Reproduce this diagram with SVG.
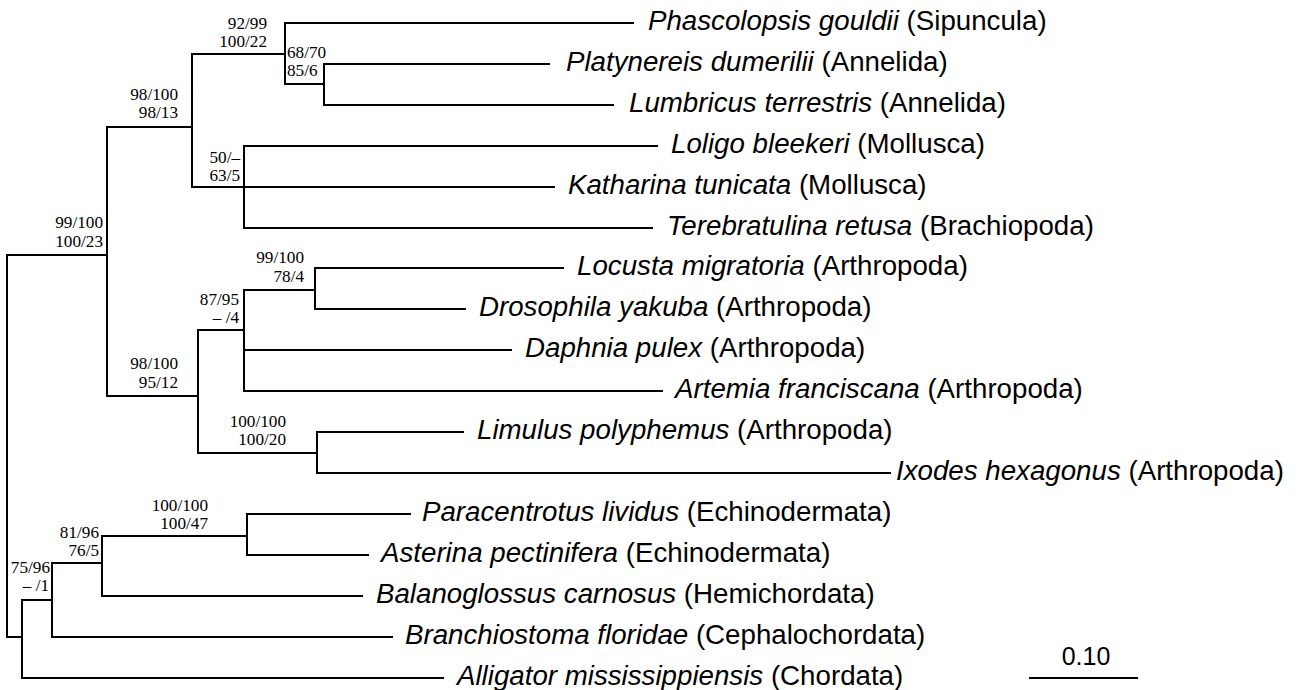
<svg xmlns="http://www.w3.org/2000/svg" width="1303" height="690" viewBox="0 0 1303 690">
<style>
.br{fill:none;stroke:#000;stroke-width:2;stroke-linecap:square}
.lf{font-family:"Liberation Sans",Arial,sans-serif;font-size:27.7px;fill:#000}
.sp{font-style:italic}
.bs{font-family:"Liberation Serif","Times New Roman",serif;font-size:17.2px;fill:#000}
.sc{font-family:"Liberation Sans",Arial,sans-serif;font-size:25px;fill:#000}
</style>
<rect width="1303" height="690" fill="#fff"/>
<g id="connectors" class="br">
<path d="M7,255V637"/>
<path d="M7,255H107"/>
<path d="M7,637H22"/>
<path d="M107,127V396"/>
<path d="M107,127H192"/>
<path d="M107,396H198"/>
<path d="M192,54V187"/>
<path d="M192,54H285"/>
<path d="M285,23V84"/>
<path d="M285,23H633"/>
<path d="M285,84H324"/>
<path d="M324,64V105"/>
<path d="M324,64H549"/>
<path d="M324,105H613"/>
<path d="M192,187H554"/>
<path d="M244,146V228"/>
<path d="M244,146H657"/>
<path d="M244,228H652"/>
<path d="M198,330V453"/>
<path d="M198,330H244"/>
<path d="M198,453H317"/>
<path d="M244,290V391"/>
<path d="M244,290H315"/>
<path d="M315,268V309"/>
<path d="M315,268H563"/>
<path d="M315,309H465"/>
<path d="M244,350H511"/>
<path d="M244,391H662"/>
<path d="M317,432V473"/>
<path d="M317,432H463"/>
<path d="M317,473H890"/>
<path d="M22,600V678"/>
<path d="M22,678H443"/>
<path d="M22,600H52"/>
<path d="M52,563V637"/>
<path d="M52,637H392"/>
<path d="M52,563H102"/>
<path d="M102,536V596"/>
<path d="M102,596H362"/>
<path d="M102,536H247"/>
<path d="M247,514V555"/>
<path d="M247,514H410"/>
<path d="M247,555H368"/>
</g>
<g id="leaf-phascolopsis"><text class="lf" x="648" y="30"><tspan class="sp">Phascolopsis gouldii</tspan> (Sipuncula)</text></g>
<g id="leaf-platynereis"><text class="lf" x="566" y="71"><tspan class="sp">Platynereis dumerilii</tspan> (Annelida)</text></g>
<g id="leaf-lumbricus"><text class="lf" x="629" y="112"><tspan class="sp">Lumbricus terrestris</tspan> (Annelida)</text></g>
<g id="leaf-loligo"><text class="lf" x="671" y="153"><tspan class="sp">Loligo bleekeri</tspan> (Mollusca)</text></g>
<g id="leaf-katharina"><text class="lf" x="568" y="194"><tspan class="sp">Katharina tunicata</tspan> (Mollusca)</text></g>
<g id="leaf-terebratulina"><text class="lf" x="667" y="235"><tspan class="sp">Terebratulina retusa</tspan> (Brachiopoda)</text></g>
<g id="leaf-locusta"><text class="lf" x="577" y="275"><tspan class="sp">Locusta migratoria</tspan> (Arthropoda)</text></g>
<g id="leaf-drosophila"><text class="lf" x="479" y="316"><tspan class="sp">Drosophila yakuba</tspan> (Arthropoda)</text></g>
<g id="leaf-daphnia"><text class="lf" x="525" y="357"><tspan class="sp">Daphnia pulex</tspan> (Arthropoda)</text></g>
<g id="leaf-artemia"><text class="lf" x="675" y="398"><tspan class="sp">Artemia franciscana</tspan> (Arthropoda)</text></g>
<g id="leaf-limulus"><text class="lf" x="477" y="439"><tspan class="sp">Limulus polyphemus</tspan> (Arthropoda)</text></g>
<g id="leaf-ixodes"><text class="lf" x="896" y="480"><tspan class="sp">Ixodes hexagonus</tspan> (Arthropoda)</text></g>
<g id="leaf-paracentrotus"><text class="lf" x="422" y="521"><tspan class="sp">Paracentrotus lividus</tspan> (Echinodermata)</text></g>
<g id="leaf-asterina"><text class="lf" x="381" y="562"><tspan class="sp">Asterina pectinifera</tspan> (Echinodermata)</text></g>
<g id="leaf-balanoglossus"><text class="lf" x="376" y="603"><tspan class="sp">Balanoglossus carnosus</tspan> (Hemichordata)</text></g>
<g id="leaf-branchiostoma"><text class="lf" x="405" y="644"><tspan class="sp">Branchiostoma floridae</tspan> (Cephalochordata)</text></g>
<g id="leaf-alligator"><text class="lf" x="457" y="685"><tspan class="sp">Alligator mississippiensis</tspan> (Chordata)</text></g>
<g id="node-protostome-lophotroch" class="bs" text-anchor="end"><text x="178" y="100">98/100</text><text x="178" y="118">98/13</text></g>
<g id="node-sipuncula-annelida" class="bs" text-anchor="end"><text x="267" y="29">92/99</text><text x="267" y="46.5">100/22</text></g>
<g id="node-annelida" class="bs"><text x="287" y="58">68/70</text><text x="287" y="76">85/6</text></g>
<g id="node-mollusca-brachiopoda" class="bs" text-anchor="end"><text x="240" y="163">50/–</text><text x="240" y="181">63/5</text></g>
<g id="node-protostomia" class="bs" text-anchor="end"><text x="103" y="228">99/100</text><text x="103" y="246.5">100/23</text></g>
<g id="node-insecta" class="bs" text-anchor="end"><text x="304" y="263">99/100</text><text x="304" y="281.5">78/4</text></g>
<g id="node-pancrustacea" class="bs" text-anchor="end"><text x="239" y="305">87/95</text><text x="239" y="323">– /4</text></g>
<g id="node-arthropoda" class="bs" text-anchor="end"><text x="178" y="369">98/100</text><text x="178" y="387.5">95/12</text></g>
<g id="node-chelicerata" class="bs" text-anchor="end"><text x="286" y="427">100/100</text><text x="286" y="445">100/20</text></g>
<g id="node-echinodermata" class="bs" text-anchor="end"><text x="208" y="510.5">100/100</text><text x="208" y="528.5">100/47</text></g>
<g id="node-ambulacraria" class="bs" text-anchor="end"><text x="99" y="538">81/96</text><text x="99" y="556">76/5</text></g>
<g id="node-deuterostomia" class="bs" text-anchor="end"><text x="50" y="573">75/96</text><text x="49" y="591">– /1</text></g>
<g id="scale-bar"><path class="br" d="M1030,678H1137"/><text class="sc" x="1086" y="665" text-anchor="middle">0.10</text></g>
</svg>
